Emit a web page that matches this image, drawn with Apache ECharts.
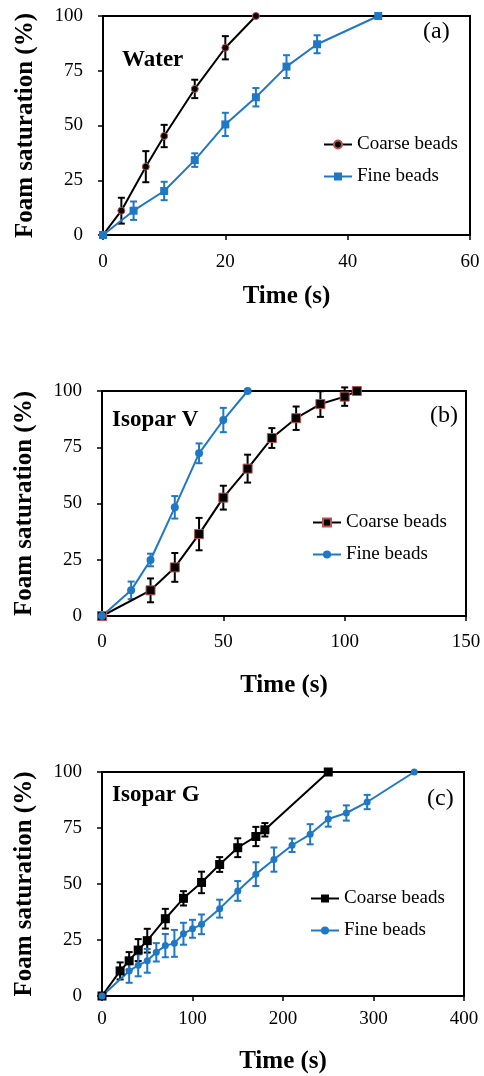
<!DOCTYPE html>
<html><head><meta charset="utf-8">
<script src="https://cdn.jsdelivr.net/npm/echarts@6/dist/echarts.min.js"></script>
<style>
html,body{margin:0;padding:0;background:#fff;}
.c{position:absolute;left:0;top:0;width:484px;height:1076px;}
</style></head>
<body>
<div id="ca" class="c"></div>
<div id="cb" class="c"></div>
<div id="cc" class="c"></div>
<script>
// ---- Data ----
var seriesNames = ['Coarse beads', 'Fine beads'];
var xTitle = 'Time (s)';
var yTitle = 'Foam saturation (%)';

// (a) Water
var aCoarseT = [0, 3, 7, 10, 15, 20, 25];
var aCoarseV = [0, 11.1, 31.2, 45.2, 66.7, 85.5, 100];
var aCoarseE = [0, 5.9, 7.1, 5.1, 4.2, 5.3, 0];
var aFineT = [0, 5, 10, 15, 20, 25, 30, 35, 45];
var aFineV = [0, 11.1, 20.1, 34.2, 50.5, 62.9, 76.9, 87.1, 100];
var aFineE = [0, 4.2, 4.2, 3.1, 5.3, 4.2, 5.2, 4.1, 0];

// (b) Isopar V
var bCoarseT = [0, 20, 30, 40, 50, 60, 70, 80, 90, 100, 105];
var bCoarseV = [0, 11.4, 21.6, 36.4, 52.6, 65.5, 79.1, 87.9, 94.2, 97.5, 100];
var bCoarseE = [0, 5.3, 6.4, 7.2, 5.3, 6.2, 4.4, 5.2, 5.7, 4.1, 0];
var bFineT = [0, 12, 20, 30, 40, 50, 60];
var bFineV = [0, 11.4, 24.9, 48.3, 72.3, 87.1, 100];
var bFineE = [0, 3.9, 2.8, 5.0, 4.4, 5.4, 0];

// (c) Isopar G
var cCoarseT = [0, 20, 30, 40, 50, 70, 90, 110, 130, 150, 170, 180, 250];
var cCoarseV = [0, 11.2, 15.7, 20.5, 24.7, 34.5, 43.6, 50.7, 58.7, 66.2, 71.2, 74.2, 100];
var cCoarseE = [0, 3.8, 3.9, 4.9, 5.3, 4.4, 3.2, 4.8, 3.3, 4.2, 4.3, 3.0, 0];
var cFineT = [0, 30, 40, 50, 60, 70, 80, 90, 100, 110, 130, 150, 170, 190, 210, 230, 250, 270, 293, 345];
var cFineV = [0, 11.2, 13.7, 15.7, 19.5, 22.5, 23.5, 27.8, 30, 32, 39, 46.9, 54.4, 60.9, 67.3, 72.2, 79, 81.7, 86.6, 100];
var cFineE = [0, 5.3, 4.9, 5.3, 4.1, 5.2, 6.0, 4.9, 4.0, 4.4, 4.0, 4.4, 5.3, 5.4, 3.0, 4.5, 3.4, 3.4, 3.2, 0];

// ---- Styling ----
var FONT = "'Liberation Serif', 'Times New Roman', serif";
var BLUE = '#1f78c6';
var RED = '#c0504d';

function pairs(t, v) { return t.map(function (x, i) { return [x, v[i]]; }); }
function errData(t, v, e) { return t.map(function (x, i) { return [x, v[i], e[i]]; }); }

function errSeries(t, v, e, color) {
  return {
    type: 'custom', z: 2, silent: true,
    data: errData(t, v, e),
    renderItem: function (params, api) {
      var x = api.value(0), y = api.value(1), er = api.value(2);
      if (!er) return null;
      var hi = api.coord([x, y + er]), lo = api.coord([x, y - er]);
      var w = 3.5;
      var st = { stroke: color, lineWidth: 2 };
      return { type: 'group', children: [
        { type: 'line', shape: { x1: hi[0], y1: hi[1], x2: lo[0], y2: lo[1] }, style: st },
        { type: 'line', shape: { x1: hi[0] - w, y1: hi[1], x2: hi[0] + w, y2: hi[1] }, style: st },
        { type: 'line', shape: { x1: lo[0] - w, y1: lo[1], x2: lo[0] + w, y2: lo[1] }, style: st }
      ]};
    }
  };
}

function lineSeries(name, t, v, color, symbol, size, border) {
  return {
    name: name, type: 'line', z: 3,
    data: pairs(t, v),
    symbol: symbol, symbolSize: size, showSymbol: true,
    lineStyle: { color: color, width: 2 },
    itemStyle: { color: color, borderColor: border || color, borderWidth: border ? 1 : 0 },
    animation: false
  };
}

function build(id, cfg) {
  var chart = echarts.init(document.getElementById(id), null, { renderer: 'canvas' });
  var opt = {
    animation: false,
    backgroundColor: 'transparent',
    grid: { left: cfg.grid[0], top: cfg.grid[1], width: cfg.grid[2], height: cfg.grid[3],
            show: true, borderColor: '#000', borderWidth: 2, backgroundColor: 'transparent' },
    xAxis: {
      type: 'value', min: 0, max: cfg.xmax, interval: cfg.xint,
      name: xTitle, nameLocation: 'middle', nameGap: cfg.xNameGap,
      nameTextStyle: { fontFamily: FONT, fontSize: 25, fontWeight: 'bold', color: '#000' },
      axisLine: { show: true, lineStyle: { color: '#000', width: 2 } },
      axisTick: { show: true, inside: false, length: 5, lineStyle: { color: '#000', width: 1.5 } },
      axisLabel: { fontFamily: FONT, fontSize: 19, color: '#000', margin: cfg.xLabelMargin },
      splitLine: { show: false }
    },
    yAxis: {
      type: 'value', min: 0, max: 100, interval: 25,
      name: yTitle, nameLocation: 'middle', nameGap: 65, nameRotate: 90,
      nameTextStyle: { fontFamily: FONT, fontSize: 25, fontWeight: 'bold', color: '#000' },
      axisLine: { show: true, lineStyle: { color: '#000', width: 2 } },
      axisTick: { show: true, inside: false, length: 5, lineStyle: { color: '#000', width: 1.5 } },
      axisLabel: { fontFamily: FONT, fontSize: 19, color: '#000', margin: 20 },
      splitLine: { show: false }
    },
    legend: {
      orient: 'vertical', left: cfg.legend[0], top: cfg.legend[1], padding: 0,
      itemWidth: 28, itemHeight: 10, itemGap: 13,
      data: seriesNames,
      textStyle: { fontFamily: FONT, fontSize: 19, color: '#000' }
    },
    graphic: [
      { type: 'text', left: cfg.label[0], top: cfg.label[1],
        style: { text: cfg.label[2], font: 'bold 23px ' + FONT, fill: '#000' } },
      { type: 'text', left: cfg.tag[0], top: cfg.tag[1],
        style: { text: cfg.tag[2], font: '24px ' + FONT, fill: '#000' } }
    ],
    series: cfg.series
  };
  chart.setOption(opt);
}

build('ca', {
  grid: [103, 16, 367, 219], xmax: 60, xint: 20, xNameGap: 49, xLabelMargin: 18,
  legend: [323, 135], label: [122, 49, 'Water'], tag: [423, 20, '(a)'],
  series: [
    errSeries(aCoarseT, aCoarseV, aCoarseE, '#000'),
    errSeries(aFineT, aFineV, aFineE, BLUE),
    lineSeries(seriesNames[0], aCoarseT, aCoarseV, '#000', 'circle', 7, RED),
    lineSeries(seriesNames[1], aFineT, aFineV, BLUE, 'rect', 8)
  ]
});

build('cb', {
  grid: [102, 391, 364, 225], xmax: 150, xint: 50, xNameGap: 57, xLabelMargin: 17,
  legend: [312, 513], label: [112, 409, 'Isopar V'], tag: [430, 404, '(b)'],
  series: [
    errSeries(bCoarseT, bCoarseV, bCoarseE, '#000'),
    errSeries(bFineT, bFineV, bFineE, BLUE),
    lineSeries(seriesNames[0], bCoarseT, bCoarseV, '#000', 'rect', 9, RED),
    lineSeries(seriesNames[1], bFineT, bFineV, BLUE, 'circle', 8)
  ]
});

build('cc', {
  grid: [102, 772, 362, 224], xmax: 400, xint: 100, xNameGap: 53, xLabelMargin: 14,
  legend: [310, 889], label: [112, 784, 'Isopar G'], tag: [427, 787, '(c)'],
  series: [
    errSeries(cCoarseT, cCoarseV, cCoarseE, '#000'),
    errSeries(cFineT, cFineV, cFineE, BLUE),
    lineSeries(seriesNames[0], cCoarseT, cCoarseV, '#000', 'rect', 9),
    lineSeries(seriesNames[1], cFineT, cFineV, BLUE, 'circle', 7)
  ]
});
</script>
</body></html>
